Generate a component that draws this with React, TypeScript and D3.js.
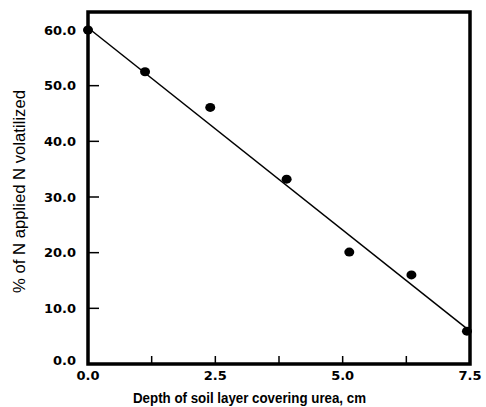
import React, {useRef, useEffect} from 'react';
import * as d3 from 'd3';

// measured points
const depth = [0.0, 1.12, 2.4, 3.9, 5.13, 6.35, 7.44];
const volatilized = [60.0, 52.5, 46.1, 33.2, 20.1, 16.0, 5.9];

// fitted line ends
const fitX = [0.0, 7.5];
const fitY = [60.4, 5.9];

const xTicks = [0, 2.5, 5.0, 7.5];
const xMinor = [1.25, 3.75, 6.25];
const yTicks = [0, 10, 20, 30, 40, 50, 60];

const xTitle = "Depth of soil layer covering urea, cm";
const yTitle = "% of N applied N volatilized";

const App = () => {

    const chart = useRef<SVGSVGElement>(null);

    useEffect(() => {
        createChart(chart);
    }, []);

    const createChart = (ref: any) => {
        var svg = d3.select(ref.current);
        svg.selectAll("*").remove();

        var left = 88, right = 470, top = 12, bottom = 364;
        var x_scale = d3.scaleLinear().domain([0, 7.5]).range([left, right]);
        var y_scale = d3.scaleLinear().domain([0, 60]).range([bottom, 30]);

        var font = "'DejaVu Sans', sans-serif";

        // frame
        svg.append("rect")
           .attr("x", left)
           .attr("y", top)
           .attr("width", right - left)
           .attr("height", bottom - top)
           .attr("fill", "none")
           .attr("stroke", "black")
           .attr("stroke-width", 3.5);

        // y ticks (inside)
        svg.selectAll(".ytick")
           .data(yTicks.filter(d => d > 0 && d < 60))
           .enter()
           .append("line")
           .attr("x1", left)
           .attr("x2", left + 11)
           .attr("y1", d => y_scale(d))
           .attr("y2", d => y_scale(d))
           .attr("stroke", "black")
           .attr("stroke-width", 1.5);

        svg.selectAll(".ylab")
           .data(yTicks)
           .enter()
           .append("text")
           .attr("x", 76)
           .attr("y", d => d === 0 ? y_scale(d) - 4 : y_scale(d))
           .attr("dy", "0.36em")
           .attr("text-anchor", "end")
           .attr("font-family", font)
           .attr("font-weight", "bold")
           .attr("font-size", "13px")
           .text(d => d.toFixed(1));

        // x ticks (inside)
        svg.selectAll(".xtick")
           .data(xTicks.filter(d => d > 0 && d < 7.5).concat(xMinor))
           .enter()
           .append("line")
           .attr("x1", d => x_scale(d))
           .attr("x2", d => x_scale(d))
           .attr("y1", bottom)
           .attr("y2", bottom - 8)
           .attr("stroke", "black")
           .attr("stroke-width", 1.5);

        svg.selectAll(".xlab")
           .data(xTicks)
           .enter()
           .append("text")
           .attr("x", d => x_scale(d))
           .attr("y", 380)
           .attr("text-anchor", "middle")
           .attr("font-family", font)
           .attr("font-weight", "bold")
           .attr("font-size", "13px")
           .text(d => d.toFixed(1));

        // titles
        svg.append("text")
           .attr("x", 249.5)
           .attr("y", 403)
           .attr("text-anchor", "middle")
           .attr("font-family", "'Liberation Sans', Arial, sans-serif")
           .attr("font-weight", "bold")
           .attr("font-size", "14px")
           .attr("textLength", 233)
           .attr("lengthAdjust", "spacingAndGlyphs")
           .text(xTitle);

        svg.append("text")
           .attr("transform", "translate(25,191.5) rotate(-90)")
           .attr("text-anchor", "middle")
           .attr("font-family", "'Liberation Sans', Arial, sans-serif")
           .attr("font-size", "16px")
           .attr("textLength", 203)
           .attr("lengthAdjust", "spacingAndGlyphs")
           .text(yTitle);

        // fitted line
        var line = d3.line<number>()
                     .x((d, i) => x_scale(fitX[i]))
                     .y((d) => y_scale(d));

        svg.append("path")
           .datum(fitY)
           .attr("d", line)
           .attr("fill", "none")
           .attr("stroke", "black")
           .attr("stroke-width", 1.5);

        svg.selectAll(".point")
           .data(depth)
           .enter()
           .append("ellipse")
           .attr("cx", d => x_scale(d))
           .attr("cy", (d, i) => y_scale(volatilized[i]))
           .attr("rx", 5)
           .attr("ry", 4.5)
           .attr("fill", "black");
    }

    return (
        <svg ref={chart}
             width={486}
             height={407}
             style={{position: "absolute", left: 0, top: 0, background: "white"}}></svg>
    )
};

export default App;
